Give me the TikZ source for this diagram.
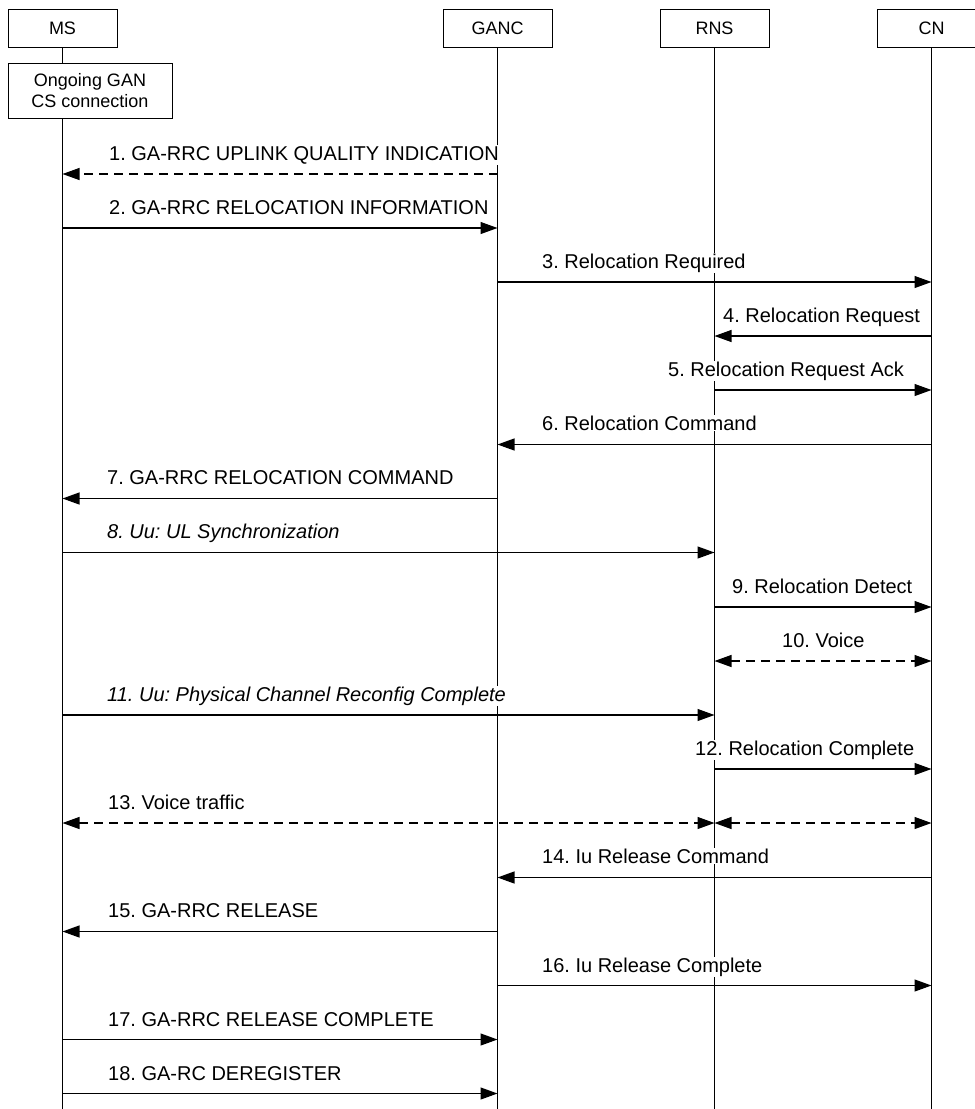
\documentclass[tikz,border=0pt]{standalone}
\usepackage{fontspec}
\setmainfont{Liberation Sans}
\usetikzlibrary{arrows.meta,backgrounds}

\tikzset{
  entity/.style={draw, line width=1pt, fill=white, minimum width=109pt, minimum height=38pt, inner sep=0pt, font=\fontsize{18}{21.5}\selectfont},
  life/.style={line width=1pt},
  msg/.style={line width=1.1pt, -{Triangle[length=17pt,width=12pt]}},
  both/.style={line width=1.1pt, {Triangle[length=17pt,width=12pt]}-{Triangle[length=17pt,width=12pt]}},
  dashmsg/.style={dash pattern=on 9pt off 6pt},
  lbl/.style={anchor=base west, fill=white, inner sep=1pt, font=\fontsize{20}{24}\selectfont\frenchspacing},
}

\begin{document}
\begin{tikzpicture}[x=1pt, y=-1pt]
    \useasboundingbox (0,0) rectangle (975,1109);
    % entities
    \node[entity] (MS) at (62.5,28) {MS};
    \node[entity] (GANC) at (497.5,28) {GANC};
    \node[entity] (RNS) at (714.5,28) {RNS};
    \node[entity] (CN) at (931.5,28) {CN};
    \node[entity, minimum width=164pt, minimum height=55pt, align=center] (ongoing) at (90,90.5) {Ongoing GAN\\CS connection};
    \coordinate (MSend) at (62.5,1109);
    \coordinate (GANCend) at (497.5,1109);
    \coordinate (RNSend) at (714.5,1109);
    \coordinate (CNend) at (931.5,1109);
    \begin{scope}[on background layer]
        \draw[life] (MS.south) -- (MSend);
        \draw[life] (GANC.south) -- (GANCend);
        \draw[life] (RNS.south) -- (RNSend);
        \draw[life] (CN.south) -- (CNend);
    \end{scope}
    % message labels
    \node[lbl] (t1) at (108,160) {1. GA-RRC UPLINK QUALITY INDICATION};
    \node[lbl] (t2) at (108,214) {2. GA-RRC RELOCATION INFORMATION};
    \node[lbl] (t3) at (541,268) {3. Relocation Required};
    \node[lbl] (t4) at (722,322) {4. Relocation Request};
    \node[lbl] (t5) at (667,376) {5. Relocation Request Ack};
    \node[lbl] (t6) at (541,430) {6. Relocation Command};
    \node[lbl] (t7) at (106,484) {7. GA-RRC RELOCATION COMMAND};
    \node[lbl, font=\fontsize{20}{24}\selectfont\frenchspacing\itshape] (t8) at (106,538) {8. Uu: UL Synchronization};
    \node[lbl] (t9) at (731,593) {9. Relocation Detect};
    \node[lbl] (t10) at (781,647) {10. Voice};
    \node[lbl, font=\fontsize{20}{24}\selectfont\frenchspacing\itshape] (t11) at (106,701) {11. Uu: Physical Channel Reconfig Complete};
    \node[lbl] (t12) at (694,755) {12. Relocation Complete};
    \node[lbl] (t13) at (107,809) {13. Voice traffic};
    \node[lbl] (t14) at (541,863) {14. Iu Release Command};
    \node[lbl] (t15) at (107,917) {15. GA-RRC RELEASE};
    \node[lbl] (t16) at (541,972) {16. Iu Release Complete};
    \node[lbl] (t17) at (107,1026) {17. GA-RRC RELEASE COMPLETE};
    \node[lbl] (t18) at (107,1080) {18. GA-RC DEREGISTER};
    % messages
    \draw[msg, dashmsg] (GANC |- 0,174) -- (MS |- 0,174);
    \draw[msg] (MS |- 0,228) -- (GANC |- 0,228);
    \draw[msg] (GANC |- 0,282) -- (CN |- 0,282);
    \draw[msg] (CN |- 0,336) -- (RNS |- 0,336);
    \draw[msg] (RNS |- 0,390) -- (CN |- 0,390);
    \draw[msg] (CN |- 0,444.5) -- (GANC |- 0,444.5);
    \draw[msg] (GANC |- 0,498.5) -- (MS |- 0,498.5);
    \draw[msg] (MS |- 0,552.5) -- (RNS |- 0,552.5);
    \draw[msg] (RNS |- 0,607) -- (CN |- 0,607);
    \draw[both, dashmsg] (RNS |- 0,661) -- (CN |- 0,661);
    \draw[msg] (MS |- 0,715) -- (RNS |- 0,715);
    \draw[msg] (RNS |- 0,769) -- (CN |- 0,769);
    \draw[both, dashmsg] (MS |- 0,823) -- (RNS |- 0,823);
    \draw[both, dashmsg] (RNS |- 0,823) -- (CN |- 0,823);
    \draw[msg] (CN |- 0,877.5) -- (GANC |- 0,877.5);
    \draw[msg] (GANC |- 0,931.5) -- (MS |- 0,931.5);
    \draw[msg] (GANC |- 0,985.5) -- (CN |- 0,985.5);
    \draw[msg] (MS |- 0,1039.5) -- (GANC |- 0,1039.5);
    \draw[msg] (MS |- 0,1093.5) -- (GANC |- 0,1093.5);
\end{tikzpicture}
\end{document}
